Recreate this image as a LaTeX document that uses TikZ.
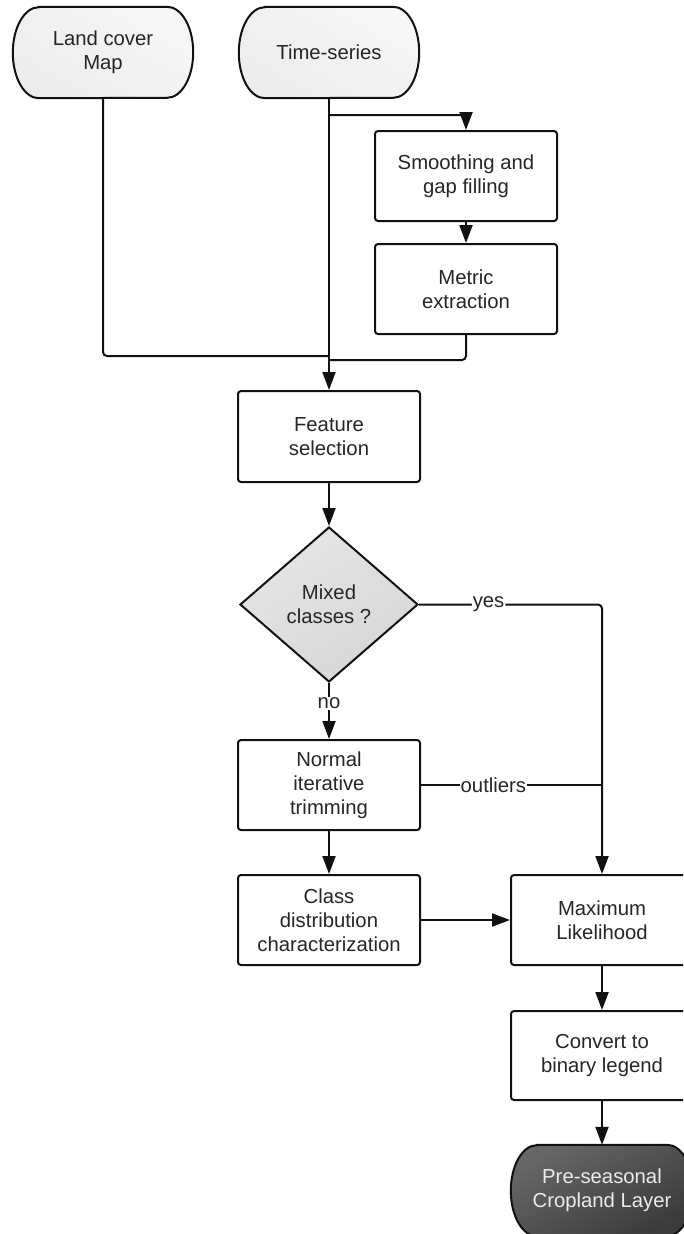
\documentclass[tikz,border=0pt]{standalone}
\usepackage{fontspec}
\setmainfont{Liberation Sans}
\usetikzlibrary{arrows.meta,shapes.geometric,calc,backgrounds}
\definecolor{txt}{HTML}{262626}
\definecolor{lnc}{HTML}{111111}
\newcommand\termshape[2]{%
  \path[#2] ($(#1.north west)+(26,0)$) -- ($(#1.north east)+(-26,0)$)
    arc[start angle=90,end angle=-90,x radius=26pt,y radius=45.5pt]
    -- ($(#1.south west)+(26,0)$)
    arc[start angle=270,end angle=90,x radius=26pt,y radius=45.5pt] -- cycle;}
\tikzset{
  every node/.style={font=\fontsize{20.3}{24}\selectfont, text=txt},
  box/.style={rectangle, draw=lnc, line width=2pt, rounded corners=3pt, fill=white,
    minimum width=182pt, minimum height=90pt, align=center, inner sep=0pt},
  term/.style={rectangle, minimum width=180pt, minimum height=91pt, align=center, inner sep=0pt},
  decide/.style={diamond, draw=lnc, line width=2pt, align=center, inner sep=0pt,
    minimum width=178pt, minimum height=155pt, aspect=1.15,
    shading=axis, top color=gray!20, bottom color=gray!32, shading angle=30},
  conn/.style={draw=lnc, line width=2pt},
  arr/.style={conn, -{Triangle[length=18pt,width=13pt]}},
  lbl/.style={fill=white, inner sep=1pt}
}
\begin{document}
\begin{tikzpicture}[x=1pt,y=-1pt]
\useasboundingbox (0,0) rectangle (683,1234);
\clip (0,0) rectangle (683,1234);
% nodes
\node[term] (lc) at (103,52.5) {Land cover\\Map};
\node[term] (ts) at (329,52.5) {Time-series};
\node[box] (sm) at (466,176) {Smoothing and\\gap filling};
\node[box] (me) at (466,289) {Metric\\extraction};
\node[box, minimum height=91pt] (fs) at (329,436.5) {Feature\\selection};
\node[decide] (mc) at (329,604.5) {Mixed\\classes ?};
\node[box] (nt) at (329,785) {Normal\\iterative\\trimming};
\node[box] (cd) at (329,920) {Class\\distribution\\characterization};
\node[box] (ml) at (602,920) {Maximum\\Likelihood};
\node[box, minimum height=89pt] (cv) at (602,1055.5) {Convert to\\binary legend};
\node[term, minimum width=182pt, text=white!92!black] (ps) at (602,1190.5) {Pre-seasonal\\Cropland Layer};
\begin{scope}[on background layer]
  \fill[white] (0,0) rectangle (683,1234);
  \termshape{lc}{draw=lnc, line width=2pt, shading=axis, top color=gray!6, bottom color=gray!15, shading angle=-30}
  \termshape{ts}{draw=lnc, line width=2pt, shading=axis, top color=gray!6, bottom color=gray!15, shading angle=-30}
  \termshape{ps}{draw=lnc, line width=2pt, shading=axis, top color=black!60, bottom color=black!77, shading angle=30}
\end{scope}
% connectors
\draw[arr] (ts.south) -- (fs.north);
\draw[arr, rounded corners=4pt] ([yshift=-17pt]ts.south) -| (sm.north);
\draw[arr] (sm.south) -- (me.north);
\draw[conn, rounded corners=4pt] (lc.south) |- ([yshift=34pt]fs.north);
\draw[conn, rounded corners=4pt] (me.south) |- ([yshift=30pt]fs.north);
\draw[arr] (fs.south) -- (mc.north);
\draw[arr] (mc.south) -- node[lbl, pos=0.36] {no} (nt.north);
\draw[arr, rounded corners=4pt] (mc.east) -| node[lbl, pos=0.19] {yes} (ml.north);
\draw[conn] (nt.east) -- node[lbl, pos=0.4] {outliers} (nt.east -| ml.north);
\draw[arr] (nt.south) -- (cd.north);
\draw[arr] (cd.east) -- (ml.west);
\draw[arr] (ml.south) -- (cv.north);
\draw[arr] (cv.south) -- (ps.north);
\end{tikzpicture}
\end{document}
